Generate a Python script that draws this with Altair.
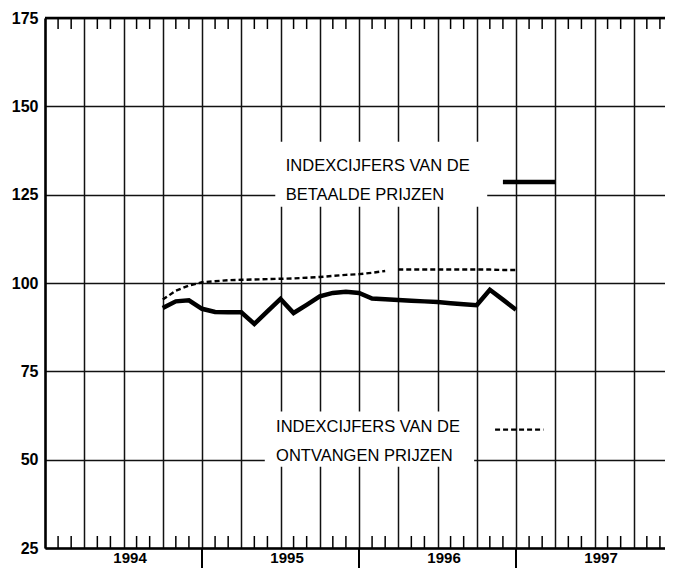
import altair as alt
import pandas as pd

# month index: 0 = January 1994, 48 = January 1998
months = list(range(9, 37))
betaalde = [92.9, 94.8, 95.1, 92.7, 91.8, 91.7, 91.7, 88.4, 92.0, 95.5, 91.5, 93.8,
            96.2, 97.2, 97.5, 97.2, 95.6, 95.4, 95.2, 95.0, 94.8, 94.6, 94.3, 94.0,
            93.7, 98.1, 95.3, 92.4]
ontvangen = [95.3, 97.8, 99.3, 100.2, 100.5, 100.8, 100.9, 101.0, 101.1, 101.2, 101.3,
             101.5, 101.7, 102.0, 102.3, 102.5, 102.9, 103.4,
             103.8, 103.8, 103.8, 103.8, 103.8, 103.8, 103.8, 103.8, 103.7, 103.7]
ontvangen_seg = [0] * 18 + [1] * 10

years = ["1994", "1995", "1996", "1997"]
year_label_pos = [6.5, 18.5, 30.5, 42.5]
year_bounds = [12, 24, 36]
y_ticks = [25, 50, 75, 100, 125, 150, 175]
quarter_lines = list(range(0, 48, 3))
month_ticks = [m for m in range(1, 48) if m % 3 != 0]

legend_text = ["INDEXCIJFERS VAN DE", "BETAALDE PRIJZEN",
               "INDEXCIJFERS VAN DE", "ONTVANGEN PRIJZEN"]
legend_tx = [18.4, 18.4, 17.66, 17.66]
legend_ty = [131.6, 123.4, 57.7, 49.6]

box_x = [17.6, 16.8]
box_x2 = [33.8, 32.8]
box_y = [140.0, 63.6]
box_y2 = [121.6, 48.0]

solid_sample = {"x": 35.0, "x2": 39.0, "y": 128.6}
dashed_sample = {"x": 34.4, "x2": 38.1, "y": 58.5}

PLOT_W = 620
XD = [0, PLOT_W * 48 / 628]   # page is narrower than the original sheet: cut at the right edge
YD = [25, 175]
FONT = "Liberation Sans, Arial, Helvetica, sans-serif"

xs = alt.Scale(domain=XD, nice=False, zero=False)
ys = alt.Scale(domain=YD, nice=False, zero=False)

df_b = pd.DataFrame({"m": months, "v": betaalde})
df_o = pd.DataFrame({"m": months, "v": ontvangen, "seg": ontvangen_seg})

grid_color = "#111111"

base_axes = alt.Chart(pd.DataFrame({"m": [0], "v": [25]})).mark_point(opacity=0).encode(
    x=alt.X("m:Q", scale=xs, axis=alt.Axis(values=quarter_lines, grid=True, gridColor=grid_color,
                                           gridWidth=1.5, labels=False, ticks=False, domain=True,
                                           domainColor="black", domainWidth=2.5, title=None)),
    y=alt.Y("v:Q", scale=ys, axis=alt.Axis(values=y_ticks, grid=True, gridColor=grid_color,
                                           gridWidth=1.5, ticks=False, domain=True,
                                           domainColor="black", domainWidth=2.5,
                                           labelFont=FONT, labelFontWeight="bold",
                                           labelFontSize=16, labelColor="black",
                                           labelPadding=7, title=None)),
)

top_border = alt.Chart(pd.DataFrame({"v": [175]})).mark_rule(color="black", strokeWidth=2.5).encode(
    y=alt.Y("v:Q", scale=ys)
)

top_ticks = alt.Chart(pd.DataFrame({"m": month_ticks})).mark_rule(color="black", strokeWidth=1.5).encode(
    x=alt.X("m:Q", scale=xs), y=alt.value(0), y2=alt.value(11)
)
bottom_ticks = alt.Chart(pd.DataFrame({"m": month_ticks})).mark_rule(color="black", strokeWidth=1.5).encode(
    x=alt.X("m:Q", scale=xs), y=alt.value(518), y2=alt.value(530)
)
year_ticks = alt.Chart(pd.DataFrame({"m": year_bounds})).mark_rule(color="black", strokeWidth=2).encode(
    x=alt.X("m:Q", scale=xs), y=alt.value(530), y2=alt.value(550)
)
year_labels = alt.Chart(pd.DataFrame({"m": year_label_pos, "t": years})).mark_text(
    font=FONT, fontSize=15, fontWeight="bold", color="black", align="center", baseline="alphabetic"
).encode(x=alt.X("m:Q", scale=xs), y=alt.value(545), text="t:N")

boxes = alt.Chart(pd.DataFrame({"x": box_x, "x2": box_x2, "y": box_y, "y2": box_y2})).mark_rect(
    color="white"
).encode(x=alt.X("x:Q", scale=xs), x2="x2:Q", y=alt.Y("y:Q", scale=ys), y2="y2:Q")

texts = alt.Chart(pd.DataFrame({"x": legend_tx, "y": legend_ty, "t": legend_text})).mark_text(
    font=FONT, fontSize=16.5, color="black", align="left", baseline="alphabetic"
).encode(x=alt.X("x:Q", scale=xs), y=alt.Y("y:Q", scale=ys), text="t:N")

line_b = alt.Chart(df_b).mark_line(color="black", strokeWidth=4.5, strokeJoin="miter").encode(
    x=alt.X("m:Q", scale=xs), y=alt.Y("v:Q", scale=ys)
)
line_o = alt.Chart(df_o).mark_line(color="black", strokeWidth=2.4, strokeDash=[5, 3]).encode(
    x=alt.X("m:Q", scale=xs), y=alt.Y("v:Q", scale=ys), detail="seg:N"
)

sample_solid = alt.Chart(pd.DataFrame([solid_sample])).mark_rule(color="black", strokeWidth=4.5).encode(
    x=alt.X("x:Q", scale=xs), x2="x2:Q", y=alt.Y("y:Q", scale=ys)
)
sample_dashed = alt.Chart(pd.DataFrame([dashed_sample])).mark_rule(
    color="black", strokeWidth=2.4, strokeDash=[5, 3]
).encode(x=alt.X("x:Q", scale=xs), x2="x2:Q", y=alt.Y("y:Q", scale=ys))

chart = alt.layer(
    base_axes, boxes, top_border, top_ticks, bottom_ticks, year_ticks, year_labels,
    texts, line_o, line_b, sample_solid, sample_dashed
).properties(
    width=PLOT_W, height=530,
    padding={"left": 37, "top": 10, "right": 0, "bottom": 20},
    autosize="none",
).configure_view(stroke=None).configure(background="white")

chart.save("out.html", embed_options={"renderer": "svg", "actions": False})
